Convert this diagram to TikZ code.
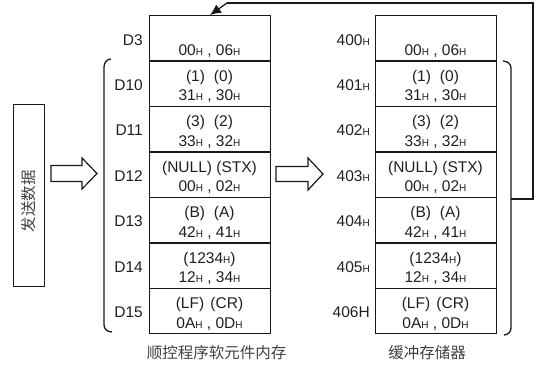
\documentclass[tikz,border=0pt]{standalone}
\usepackage{fontspec}
\setmainfont{Liberation Sans}
\newfontfamily\cjk{Noto Sans CJK SC}
\usetikzlibrary{arrows.meta}
\newcommand\hh{{\fontsize{10}{10}\selectfont H}}
\begin{document}
\begin{tikzpicture}[x=1pt,y=-1pt,
  ln/.style={draw=black!90, line width=1.4pt},
  cell/.style={ln, minimum width=121pt, minimum height=45.43pt, anchor=north west, inner sep=0pt},
  txt/.style={font=\fontsize{15.5}{15.5}\selectfont, text=black!88, anchor=base, inner sep=0pt},
  lbl/.style={font=\fontsize{15.5}{15.5}\selectfont, text=black!88, anchor=base east, inner sep=0pt},
  captxt/.style={font=\cjk\fontsize{15.5}{15.5}\selectfont, text=black!75, inner sep=0pt},
  blockarrow/.style={draw=black!90, line width=1.2pt, fill=white, line join=miter}
]
\useasboundingbox (0,0) rectangle (536,365);

\foreach \i/\L/\R/\a/\b in {
 0/D3/{400\hh}/{}/{00\hh\ , 06\hh},
 1/D10/{401\hh}/{(1)\hspace{9pt}(0)}/{31\hh\ , 30\hh},
 2/D11/{402\hh}/{(3)\hspace{9pt}(2)}/{33\hh\ , 32\hh},
 3/D12/{403\hh}/{(NULL) (STX)}/{00\hh\ , 02\hh},
 4/D13/{404\hh}/{(B)\hspace{9pt}(A)}/{42\hh\ , 41\hh},
 5/D14/{405\hh}/{(1234\hh)}/{12\hh\ , 34\hh},
 6/D15/{406H}/{(LF)\hspace{2pt} (CR)}/{0A\hh\ , 0D\hh}}
{
  \pgfmathsetmacro\rt{15+\i*45.43}
  \node[cell] (L\i) at (149,\rt) {};
  \node[cell] (R\i) at (375,\rt) {};
  \node[txt] (La\i) at (209.5,{\rt+21}) {\a};
  \node[txt] (Lb\i) at (209.5,{\rt+40.5}) {\b};
  \node[txt] (Ra\i) at (435.5,{\rt+21}) {\a};
  \node[txt] (Rb\i) at (435.5,{\rt+40.5}) {\b};
  \node[lbl] (Ll\i) at (143,{\rt+30}) {\L};
  \node[lbl] (Rl\i) at (370,{\rt+30}) {\R};
}

% send data box
\node[ln, line width=1.2pt, minimum width=31pt, minimum height=182pt, anchor=north west, inner sep=0pt] (send) at (13,104) {};
\node[captxt, rotate=90] (sendtxt) at (29,201) {发送数据};

% block arrows
\draw[blockarrow] (51,165.5) -- (82,165.5) -- (82,158) -- (97,173.5) -- (82,189) -- (82,181.5) -- (51,181.5) -- cycle;
\draw[blockarrow] (276,166.5) -- (308,166.5) -- (308,158) -- (323,174) -- (308,190) -- (308,181.5) -- (276,181.5) -- cycle;

% brackets
\draw[ln, line width=1.3pt] (111,59) to[out=180,in=90] (104,67) -- (104,325) to[out=-90,in=180] (112,332);
\draw[ln, line width=1.3pt] (503,61) to[out=0,in=90] (511,68) -- (511,328) to[out=-90,in=0] (504,335);

% feedback
\coordinate (fb) at (511,199);
\coordinate (c1) at (533,199);
\coordinate (c2) at (533,3);
\coordinate (c3) at (227,3);
\coordinate (tip) at (210,15);
\draw[ln, line width=1.3pt] (fb) -- (c1) -- (c2) -- (c3);
\draw[ln, line width=1.3pt, -{Latex[length=11pt,width=10pt]}] (c3) -- (tip);

% captions
\node[captxt] (capL) at (216.5,353) {顺控程序软元件内存};
\node[captxt] (capR) at (427,353) {缓冲存储器};
\end{tikzpicture}
\end{document}
